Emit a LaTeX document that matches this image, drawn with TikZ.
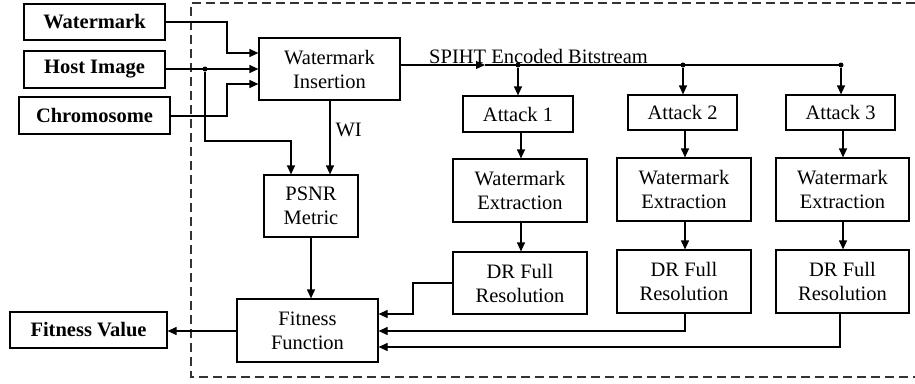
\documentclass[tikz,border=0pt]{standalone}
\usepackage{fontspec}
\setmainfont{Liberation Serif}
\usetikzlibrary{arrows.meta}
\begin{document}
\begin{tikzpicture}[x=1pt,y=-1pt,
  font=\fontsize{20.5}{24}\selectfont,
  blk/.style={draw, line width=1.2pt, rectangle, inner sep=0pt, align=center},
  arr/.style={-{Triangle[length=9pt,width=8pt]}, line width=1.2pt},
  ln/.style={line width=1.2pt},
  dot/.style={circle, fill, inner sep=0pt, minimum size=5pt},
  frame/.style={line width=1.1pt, dash pattern=on 9pt off 5pt, draw=black!80}]
\useasboundingbox (0,0) rectangle (915,383);
% dashed frame
\draw[frame] (915,3) -- (191,3) -- (191,377) -- (915,377);
% input boxes
\node[blk, font=\fontsize{20.5}{24}\selectfont\bfseries, minimum width=141pt, minimum height=36pt] (wm) at (94.5,22) {Watermark};
\node[blk, font=\fontsize{20.5}{24}\selectfont\bfseries, minimum width=141pt, minimum height=37pt] (host) at (94.5,69.5) {Host Image};
\node[blk, font=\fontsize{20.5}{24}\selectfont\bfseries, minimum width=151pt, minimum height=37pt] (chrom) at (94.5,115.5) {Chromosome};
\node[blk, font=\fontsize{20.5}{24}\selectfont\bfseries, minimum width=157pt, minimum height=36pt] (fv) at (88.5,330) {Fitness Value};
% inner boxes
\node[blk, minimum width=141pt, minimum height=62pt] (ins) at (329.5,69) {Watermark\\Insertion};
\node[blk, minimum width=94pt, minimum height=62pt] (psnr) at (311,206) {PSNR\\Metric};
\node[blk, minimum width=141pt, minimum height=63pt] (fit) at (307.5,330.5) {Fitness\\Function};
\node[blk, minimum width=110pt, minimum height=36pt] (a1) at (518,114) {Attack 1};
\node[blk, minimum width=109pt, minimum height=35pt] (a2) at (682.5,112.5) {Attack 2};
\node[blk, minimum width=109pt, minimum height=35pt] (a3) at (840.5,112.5) {Attack 3};
\node[blk, minimum width=134pt, minimum height=63pt] (we1) at (520,190.5) {Watermark\\Extraction};
\node[blk, minimum width=134pt, minimum height=63pt] (we2) at (684,189.5) {Watermark\\Extraction};
\node[blk, minimum width=133pt, minimum height=63pt] (we3) at (842.5,189.5) {Watermark\\Extraction};
\node[blk, minimum width=134pt, minimum height=62pt] (dr1) at (520,283) {DR Full\\Resolution};
\node[blk, minimum width=134pt, minimum height=63pt] (dr2) at (684,281.5) {DR Full\\Resolution};
\node[blk, minimum width=133pt, minimum height=63pt] (dr3) at (842.5,281.5) {DR Full\\Resolution};
% coordinates
\coordinate (jw) at (227,22);
\coordinate (jc) at (227,116);
\coordinate (hd) at (205,69);
\coordinate (hb) at (205,141);
\coordinate (s0) at (485,65);
\coordinate (s1) at (518,65);
\coordinate (s2) at (683,65);
\coordinate (s3) at (841,65);
\coordinate (d1) at (413,283);
% inputs to insertion
\draw[arr] (wm.east |- jw) -- (jw) |- (ins.west |- 0,53);
\draw[arr] (host.east |- hd) -- (ins.west |- hd);
\draw[arr] (chrom.east |- jc) -- (jc) |- (ins.west |- 0,84);
\node[dot] (hdot) at (hd) {};
\draw[arr] (hdot) -- (hb) -| (psnr.north -| 291,0);
% WI
\draw[arr] (ins.south -| 330,0) -- (psnr.north -| 330,0) node[pos=0.4, right=5pt, inner sep=0pt] (wi) {WI};
% SPIHT bitstream
\draw[arr] (ins.east |- s0) -- (s0);
\draw[ln] (s0) -- (s3);
\node[anchor=base west, inner sep=0pt] (spiht) at (429,63) {SPIHT Encoded Bitstream};
\node[dot] (p1) at (s1) {};
\node[dot] (p2) at (s2) {};
\node[dot] (p3) at (s3) {};
\draw[arr] (p1) -- (a1.north -| p1);
\draw[arr] (p2) -- (a2.north -| p2);
\draw[arr] (p3) -- (a3.north -| p3);
% attack chains
\draw[arr] (a1.south -| 521,0) -- (we1.north -| 521,0);
\draw[arr] (a2.south -| 685,0) -- (we2.north -| 685,0);
\draw[arr] (a3.south -| 843,0) -- (we3.north -| 843,0);
\draw[arr] (we1.south -| 521,0) -- (dr1.north -| 521,0);
\draw[arr] (we2.south -| 685,0) -- (dr2.north -| 685,0);
\draw[arr] (we3.south -| 843,0) -- (dr3.north -| 843,0);
% to fitness
\draw[arr] (psnr.south) -- (fit.north -| psnr.south);
\draw[arr] (dr1.west |- d1) -- (d1) |- (fit.east |- 0,314);
\draw[arr] (dr2.south -| 685,0) |- (fit.east |- 0,331);
\draw[arr] (dr3.south -| 840,0) |- (fit.east |- 0,347);
\draw[arr] (fit.west |- 0,331) -- (fv.east |- 0,331);
\end{tikzpicture}
\end{document}
